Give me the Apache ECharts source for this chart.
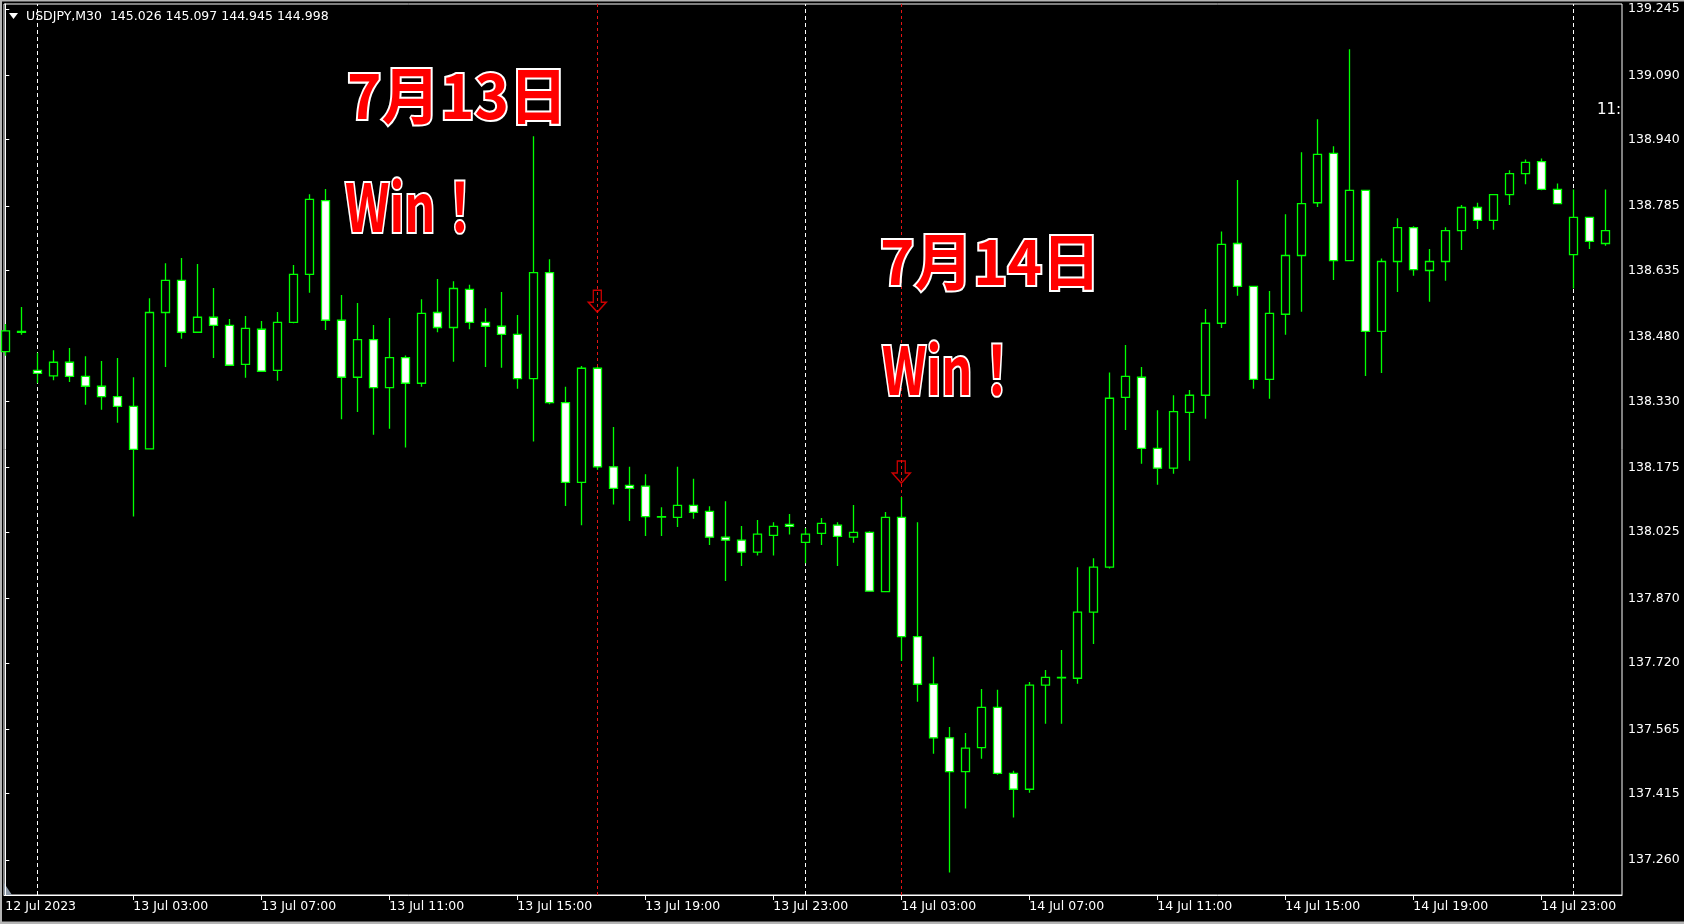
<!DOCTYPE html>
<html>
<head>
<meta charset="utf-8">
<script src="https://cdn.jsdelivr.net/npm/echarts@6/dist/echarts.min.js"></script>
<style>
html,body{margin:0;padding:0;background:#000;overflow:hidden;}
#c{width:1684px;height:924px;}
</style>
</head>
<body>
<div id="c"></div>
<script>
// ---- Data (USDJPY M30, 12 Jul 23:00 -> 15 Jul 01:00) ----
const openPrices = [
138.446,138.493,138.402,138.389,138.421,138.388,138.365,138.341,138.318,138.219,
138.537,138.612,138.491,138.526,138.507,138.416,138.498,138.402,138.514,138.626,
138.798,138.519,138.386,138.474,138.362,138.432,138.372,138.537,138.502,138.591,
138.514,138.505,138.486,138.383,138.630,138.327,138.141,138.407,138.177,138.134,
138.132,138.061,138.059,138.087,138.073,138.013,138.006,137.978,138.017,138.043,
138.001,138.022,138.041,138.013,138.024,137.886,138.059,137.781,137.670,137.545,
137.466,137.522,137.616,137.462,137.425,137.668,137.686,137.684,137.838,137.943,
138.339,138.386,138.220,138.174,138.304,138.344,138.512,138.698,138.598,138.381,
138.533,138.670,138.793,138.908,138.658,138.822,138.493,138.656,138.735,138.635,
138.656,138.728,138.782,138.752,138.812,138.861,138.889,138.824,138.672,138.759,
138.698];
const closePrices = [
138.494,138.491,138.395,138.421,138.388,138.365,138.341,138.318,138.218,138.537,
138.612,138.491,138.526,138.507,138.414,138.500,138.400,138.514,138.626,138.801,
138.519,138.386,138.474,138.362,138.432,138.372,138.535,138.502,138.593,138.514,
138.505,138.486,138.383,138.630,138.327,138.141,138.407,138.177,138.127,138.127,
138.061,138.060,138.087,138.071,138.013,138.006,137.978,138.020,138.038,138.038,
138.020,138.045,138.015,138.024,137.887,138.059,137.781,137.670,137.545,137.466,
137.521,137.616,137.462,137.425,137.668,137.686,137.685,137.838,137.943,138.337,
138.388,138.220,138.174,138.306,138.344,138.512,138.696,138.598,138.381,138.535,
138.670,138.791,138.906,138.658,138.822,138.493,138.656,138.735,138.637,138.656,
138.728,138.782,138.752,138.812,138.861,138.887,138.824,138.791,138.759,138.703,
138.728];
const lowPrices = [
138.436,138.485,138.372,138.379,138.375,138.322,138.310,138.280,138.061,138.218,
138.410,138.476,138.490,138.431,138.413,138.385,138.399,138.378,138.512,138.583,
138.496,138.288,138.305,138.252,138.266,138.222,138.364,138.491,138.422,138.498,
138.410,138.408,138.359,138.236,138.323,138.086,138.041,138.170,138.089,138.051,
138.016,138.016,138.037,138.056,137.995,137.911,137.946,137.970,137.970,138.019,
137.952,137.995,137.946,138.000,137.886,137.885,137.724,137.629,137.508,137.231,
137.380,137.496,137.459,137.359,137.417,137.578,137.578,137.671,137.764,137.940,
138.263,138.184,138.135,138.161,138.191,138.289,138.501,138.576,138.359,138.336,
138.485,138.539,138.783,138.613,138.658,138.389,138.396,138.585,138.623,138.562,
138.611,138.683,138.732,138.730,138.788,138.836,138.822,138.791,138.593,138.685,
138.693];
const highPrices = [
138.510,138.550,138.443,138.449,138.454,138.435,138.424,138.431,138.386,138.570,
138.652,138.664,138.650,138.594,138.522,138.529,138.517,138.538,138.648,138.813,
138.825,138.578,138.559,138.508,138.524,138.437,138.568,138.615,138.610,138.602,
138.547,138.585,138.531,138.948,138.661,138.364,138.412,138.410,138.270,138.177,
138.160,138.083,138.177,138.149,138.085,138.097,138.039,138.053,138.048,138.067,
138.034,138.058,138.048,138.088,138.027,138.072,138.107,138.048,137.734,137.570,
137.556,137.659,137.657,137.468,137.675,137.703,137.750,137.943,137.964,138.397,
138.461,138.410,138.309,138.344,138.356,138.545,138.726,138.846,138.598,138.587,
138.766,138.911,138.988,138.925,139.151,138.822,138.663,138.757,138.738,138.685,
138.736,138.788,138.793,138.812,138.869,138.894,138.896,138.838,138.824,138.759,
138.824];

const xTickIndex  = [0, 8, 16, 24, 32, 40, 48, 56, 64, 72, 80, 88, 96];
const xTickLabels = ['12 Jul 2023','13 Jul 03:00','13 Jul 07:00','13 Jul 11:00','13 Jul 15:00',
  '13 Jul 19:00','13 Jul 23:00','14 Jul 03:00','14 Jul 07:00','14 Jul 11:00','14 Jul 15:00',
  '14 Jul 19:00','14 Jul 23:00'];
const yTicks = [137.260,137.415,137.565,137.720,137.870,138.025,138.175,138.330,138.480,
  138.635,138.785,138.940,139.090,139.245];

const daySeparatorIndex = [2, 50, 98];
const signalIndex = [37, 56];
const signalArrowPrice = [138.5635, 138.1648];

const headerText = 'USDJPY,M30  145.026 145.097 144.945 144.998';
const timerText = '11:';
const annotationDate = ['7月13日', '7月14日'];
const annotationWin = ['Win！', 'Win！'];

// ---- Chart ----
const FONT = 'DejaVu Sans';
const JPFONT = '"Noto Sans CJK JP"';
const labelMap = {};
xTickIndex.forEach((v, k) => { labelMap[v] = xTickLabels[k]; });
const candleData = openPrices.map((o, i) => [i, o, closePrices[i], lowPrices[i], highPrices[i]]);

const markLines = [];
daySeparatorIndex.forEach(v => markLines.push({xAxis: v, lineStyle: {color: '#ffffff', width: 1, type: [4, 3]}}));
signalIndex.forEach(v => markLines.push({xAxis: v, lineStyle: {color: '#e41414', width: 1, type: [3, 3]}}));

const arrowPath = 'path://M5,0 L13,0 L13,12 L18,12 L9,22 L0,12 L5,12 Z';

function bigText(x, y, text, size, sx, sy) {
  return {
    type: 'text', x: x, y: y, scaleX: sx, scaleY: sy, z: 50, silent: true,
    style: {
      text: text, fill: '#ff0000', stroke: '#ffffff', lineWidth: 4, strokeFirst: true,
      font: 'bold ' + size + 'px ' + JPFONT, textAlign: 'left', textVerticalAlign: 'middle'
    }
  };
}

const chart = echarts.init(document.getElementById('c'), null, {renderer: 'canvas', width: 1684, height: 924});
chart.setOption({
  backgroundColor: '#000000',
  animation: false,
  grid: {left: 4, top: 4, right: 62, bottom: 29, show: true, borderColor: '#ffffff', borderWidth: 1, backgroundColor: '#000000'},
  xAxis: {
    type: 'value', min: -0.08125, max: 101.04375,
    splitLine: {show: false},
    axisLine: {show: true, lineStyle: {color: '#ffffff', width: 1}},
    axisTick: {show: true, customValues: xTickIndex.slice(1), length: 5, lineStyle: {color: '#ffffff'}},
    axisLabel: {
      customValues: xTickIndex, formatter: v => labelMap[Math.round(v)] || '',
      align: 'left', color: '#ffffff', fontFamily: FONT, fontSize: 12.5, margin: 5
    }
  },
  yAxis: {
    type: 'value', position: 'right', min: 137.1784, max: 139.2566,
    splitLine: {show: false},
    axisLine: {show: true, lineStyle: {color: '#ffffff', width: 1}},
    axisTick: {show: true, customValues: yTicks, length: 4, lineStyle: {color: '#ffffff'}},
    axisLabel: {
      customValues: yTicks, formatter: v => v.toFixed(3),
      color: '#ffffff', fontFamily: FONT, fontSize: 12.5, margin: 6
    }
  },
  series: [
    {
      type: 'candlestick', name: 'USDJPY,M30', data: candleData,
      encode: {x: 0, y: [1, 2, 3, 4]},
      barWidth: 9, z: 3, clip: true, silent: true,
      itemStyle: {color: '#000000', color0: '#ffffff', borderColor: '#00ff00', borderColor0: '#00ff00',
        borderColorDoji: '#00ff00', borderWidth: 1.3},
      markLine: {silent: true, z: 1, symbol: ['none', 'none'], label: {show: false}, animation: false,
        emphasis: {disabled: true}, data: markLines}
    },
    {
      type: 'scatter', name: 'signal', z: 6, silent: true,
      data: signalIndex.map((v, k) => [v, signalArrowPrice[k]]),
      symbol: arrowPath, symbolSize: [18, 22],
      itemStyle: {color: 'rgba(0,0,0,0)', borderColor: '#ff0000', borderWidth: 1.4}
    }
  ],
  graphic: [
    {type: 'rect', shape: {x: 0, y: 0, width: 1684, height: 1.5}, style: {fill: '#b4b4b4'}, silent: true},
    {type: 'rect', shape: {x: 0, y: 0, width: 2, height: 924}, style: {fill: '#b4b4b4'}, silent: true},
    {type: 'rect', shape: {x: 0, y: 921.5, width: 1684, height: 2.5}, style: {fill: '#b4b4b4'}, silent: true},
    {type: 'polygon', shape: {points: [[4, 883], [4, 895], [12, 895]]}, style: {fill: '#8c98a6'}, silent: true},
    {type: 'polygon', shape: {points: [[9, 13], [18, 13], [13.5, 19]]}, style: {fill: '#ffffff'}, silent: true, z: 20},
    {type: 'text', x: 26, y: 16.5, z: 20, silent: true,
      style: {text: headerText, fill: '#ffffff', font: '12.5px "DejaVu Sans"', textAlign: 'left', textVerticalAlign: 'middle'}},
    {type: 'text', x: 1597, y: 110, z: 20, silent: true,
      style: {text: timerText, fill: '#ffffff', font: '15px "DejaVu Sans"', textAlign: 'left', textVerticalAlign: 'middle'}},
    bigText(347, 96, annotationDate[0], 60, 0.975, 1.02),
    bigText(345, 207, annotationWin[0], 64, 0.76, 1.04),
    bigText(880, 262, annotationDate[1], 60, 0.975, 1.02),
    bigText(882, 370, annotationWin[1], 64, 0.76, 1.04)
  ]
});
</script>
</body>
</html>
